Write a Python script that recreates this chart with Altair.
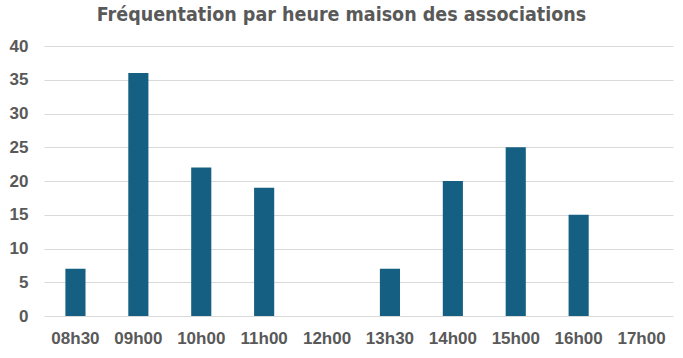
import altair as alt
import pandas as pd

heures = ["08h30", "09h00", "10h00", "11h00", "12h00", "13h30", "14h00", "15h00", "16h00", "17h00"]
frequentation = [7, 36, 22, 19, 0, 7, 20, 25, 15, 0]

df = pd.DataFrame({"heure": heures, "valeur": frequentation})

gray = "#595959"

chart = alt.Chart(df).mark_bar(color="#156082").encode(
    x=alt.X("heure:N", sort=heures, title=None,
            scale=alt.Scale(paddingInner=0.68, paddingOuter=0.34),
            axis=alt.Axis(labelAngle=0, domain=False, ticks=False, labelFont="Liberation Sans",
                          labelFontWeight="bold", labelFontSize=17, labelColor=gray, labelPadding=14)),
    y=alt.Y("valeur:Q", title=None,
            scale=alt.Scale(domain=[0, 40]),
            axis=alt.Axis(values=list(range(0, 45, 5)), domain=False, ticks=False,
                          labelFont="Liberation Sans", labelFontWeight="bold", labelFontSize=17,
                          labelColor=gray, labelPadding=16, gridColor="#d9d9d9", gridWidth=1)),
).properties(
    width=629, height=270,
    title=alt.TitleParams("Fréquentation par heure maison des associations",
                          font="DejaVu Sans Condensed", fontSize=19.5, fontWeight="bold",
                          color=gray, anchor="middle", frame="group", offset=12, dx=-17),
    autosize=alt.AutoSizeParams(type="none"),
    padding={"left": 44, "top": 46, "right": 10, "bottom": 42},
).configure_view(stroke=None)

chart.save("out.html", embed_options={"renderer": "svg", "actions": False})
